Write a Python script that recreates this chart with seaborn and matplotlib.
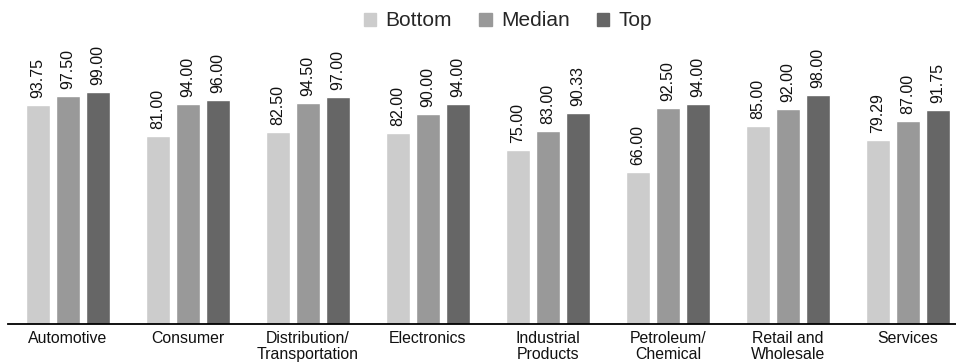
import pandas as pd
import matplotlib.pyplot as plt
import seaborn as sns

# Data
industries = ['Automotive', 'Consumer', 'Distribution/\nTransportation', 'Electronics',
              'Industrial\nProducts', 'Petroleum/\nChemical', 'Retail and\nWholesale', 'Services']
bottom = [93.75, 81.00, 82.50, 82.00, 75.00, 66.00, 85.00, 79.29]
median = [97.50, 94.00, 94.50, 90.00, 83.00, 92.50, 92.00, 87.00]
top = [99.00, 96.00, 97.00, 94.00, 90.33, 94.00, 98.00, 91.75]
series = ['Bottom', 'Median', 'Top']
colors = ['#cccccc', '#999999', '#666666']

df = pd.DataFrame({'Industry': industries, 'Bottom': bottom, 'Median': median, 'Top': top})
df = df.melt(id_vars='Industry', var_name='Group', value_name='Score')

sns.set_style('white')
plt.rcParams['font.family'] = ['Liberation Sans', 'DejaVu Sans']

W, H = 956, 363
fig = plt.figure(figsize=(W / 100, H / 100), dpi=100)
ax = fig.add_axes([8 / W, (H - 324) / H, 960 / W, 284 / H])

sns.barplot(data=df, x='Industry', y='Score', hue='Group', hue_order=series,
            palette=colors, width=0.75, gap=0.17, saturation=1, ax=ax)

for c in ax.containers:
    ax.bar_label(c, fmt='%.2f', rotation=90, padding=5, fontsize=11.5, color='#111111')

ax.set_xlim(-0.5, 7.5)
ax.set_ylim(2.5, 120.8)
ax.set_xlabel('')
ax.set_ylabel('')
ax.set_yticks([])
for s in ['top', 'left', 'right']:
    ax.spines[s].set_visible(False)
ax.spines['bottom'].set_color('black')
ax.spines['bottom'].set_linewidth(1.3)
ax.tick_params(axis='x', length=0, pad=5)
for lbl in ax.get_xticklabels():
    lbl.set_fontsize(11.4)
    lbl.set_linespacing(1.1)
    lbl.set_color('#111111')

ax.get_legend().remove()
handles = [plt.Rectangle((0, 0), 1, 1, color=c) for c in colors]
fig.legend(handles, series, loc='center', bbox_to_anchor=(508 / W, 1 - 21 / H), ncol=3,
           frameon=False, fontsize=15, handlelength=0.6, handleheight=0.6,
           handletextpad=0.45, columnspacing=1.3, borderpad=0)

fig.savefig('out.png', dpi=100)
